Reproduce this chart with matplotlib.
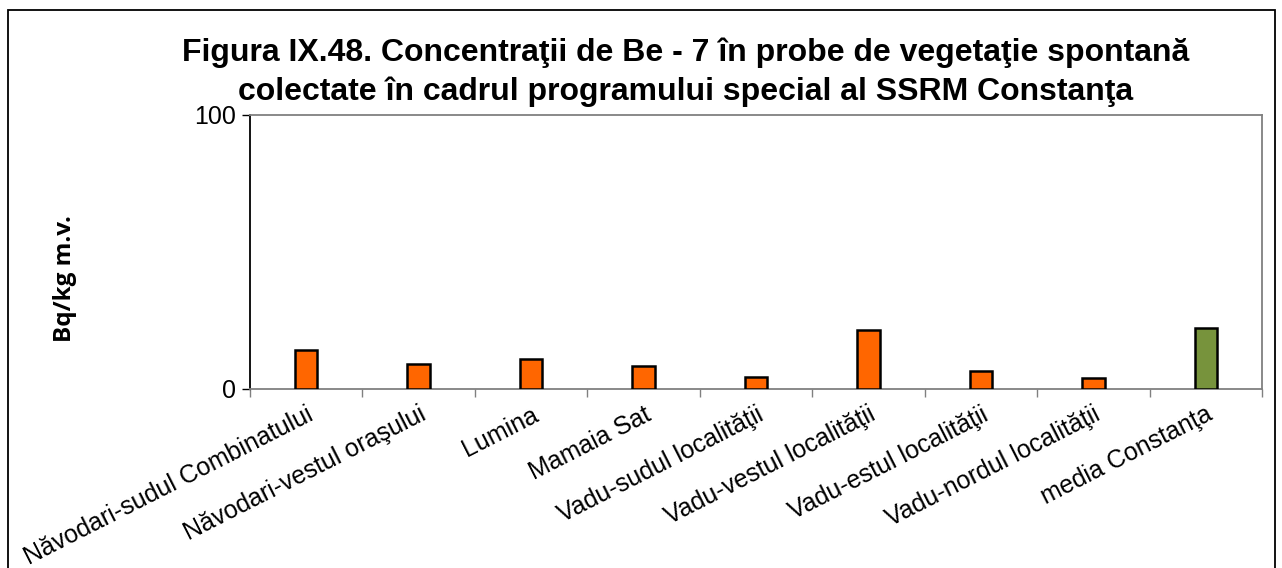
import numpy as np
import matplotlib.pyplot as plt
from matplotlib.patches import Rectangle

plt.rcParams['font.family'] = ['Liberation Sans', 'DejaVu Sans']

categories = ["Năvodari-sudul Combinatului", "Năvodari-vestul oraşului", "Lumina",
              "Mamaia Sat", "Vadu-sudul localităţii", "Vadu-vestul localităţii",
              "Vadu-estul localităţii", "Vadu-nordul localităţii", "media Constanţa"]
values = [14.0, 8.8, 10.7, 8.2, 4.1, 21.4, 6.3, 3.9, 22.1]
colors = ["#FF6600"] * 8 + ["#77933C"]

W, H = 1282, 568
fig = plt.figure(figsize=(W / 100, H / 100), dpi=100)
ax = fig.add_axes([250 / W, 1 - 388.5 / H, (1262 - 250) / W, (388.5 - 115) / H])

x = np.arange(len(categories))
ax.bar(x, values, width=0.2, color=colors, edgecolor="black", linewidth=1.8, zorder=3)

ax.set_xlim(-0.5, len(categories) - 0.5)
ax.set_ylim(0, 100)
ax.set_yticks([0, 100])
ax.tick_params(axis='y', labelsize=18, length=6, direction='out', width=1, pad=4)
ax.set_xticks(x)
ax.set_xticklabels(categories, rotation=27, ha='right', rotation_mode='anchor', fontsize=18)
ax.tick_params(axis='x', length=0, pad=10)
ax.set_xticks(np.arange(-0.5, len(categories)), minor=True)
ax.tick_params(axis='x', which='minor', length=6, color='#808080', width=1)

ax.spines['left'].set_color('black')
ax.spines['left'].set_linewidth(1.3)
for s in ['top', 'right', 'bottom']:
    ax.spines[s].set_color('#808080')
    ax.spines[s].set_linewidth(1.3)

fig.text(65 / W, 1 - 279 / H, "Bq/kg m.v.", rotation=90, ha='center', va='center',
         fontsize=17.5, fontweight='bold', family=['Open Sans', 'DejaVu Sans'])

fig.text(686 / W, 1 - 61 / H, "Figura IX.48. Concentraţii de Be - 7 în probe de vegetaţie spontană",
         ha='center', va='baseline', fontsize=23, fontweight='bold')
fig.text(686 / W, 1 - 100 / H, "colectate în cadrul programului special al SSRM Constanţa",
         ha='center', va='baseline', fontsize=23, fontweight='bold')

fig.patches.append(Rectangle((8 / W, -0.1), (1275 - 8) / W, 1.1 - 10 / H, transform=fig.transFigure,
                             fill=False, edgecolor='black', linewidth=1.3))

plt.savefig("out.png", dpi=100)
